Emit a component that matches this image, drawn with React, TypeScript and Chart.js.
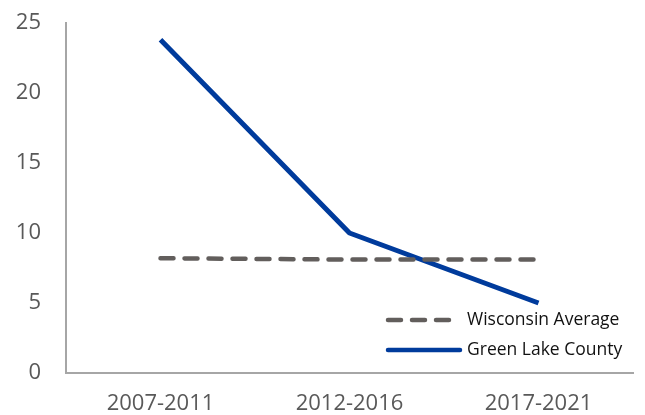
import React, { useEffect, useRef } from "react";
import { Chart, registerables } from "chart.js";

Chart.register(...registerables);

const categories = ["2007-2011", "2012-2016", "2017-2021"];
const wisconsinAverage = [8.2, 8.1, 8.1];
const greenLakeCounty = [23.8, 10.0, 5.0];
const seriesNames = ["Wisconsin Average", "Green Lake County"];

const GRAY = "#625e5c";
const BLUE = "#003b9c";
const FONT = "'Open Sans', 'Noto Sans', sans-serif";

const legendPlugin = {
  id: "insideLegend",
  afterDraw(chart: any) {
    const ctx = chart.ctx;
    const area = chart.chartArea;
    ctx.save();
    const x0 = area.right - 245;
    const rows = [
      { y: area.bottom - 53, color: GRAY, dash: [13, 11], len: 64, width: 4.5 },
      { y: area.bottom - 23, color: BLUE, dash: [], len: 72, width: 4.5 },
    ];
    rows.forEach((r, i) => {
      ctx.beginPath();
      ctx.setLineDash(r.dash);
      ctx.lineCap = "round";
      ctx.strokeStyle = r.color;
      ctx.lineWidth = r.width;
      ctx.moveTo(x0, r.y);
      ctx.lineTo(x0 + r.len, r.y);
      ctx.stroke();
      ctx.setLineDash([]);
      ctx.fillStyle = "#111111";
      ctx.font = "17.5px " + FONT;
      ctx.textBaseline = "middle";
      ctx.textAlign = "left";
      ctx.fillText(seriesNames[i], x0 + 79, r.y);
    });
    ctx.restore();
  },
};

export default function App() {
  const ref = useRef<HTMLCanvasElement>(null);
  useEffect(() => {
    document.body.style.margin = "0";
    const chart = new Chart(ref.current!, {
      type: "line",
      data: {
        labels: categories,
        datasets: [
          {
            label: seriesNames[0],
            data: wisconsinAverage,
            borderColor: GRAY,
            backgroundColor: GRAY,
            borderWidth: 4.5,
            borderDash: [13, 11],
            borderCapStyle: "round",
            pointRadius: 0,
            tension: 0,
          },
          {
            label: seriesNames[1],
            data: greenLakeCounty,
            borderColor: BLUE,
            backgroundColor: BLUE,
            borderWidth: 5,
            pointRadius: 0,
            tension: 0,
            borderJoinStyle: "round",
          },
        ],
      },
      options: {
        animation: false,
        responsive: false,
        maintainAspectRatio: false,
        layout: { padding: { top: 23, right: 12, left: 0, bottom: 0 } },
        plugins: { legend: { display: false }, tooltip: { enabled: false } },
        scales: {
          x: {
            offset: true,
            grid: { display: false, drawTicks: false },
            border: { display: true, color: "#a6a6a6", width: 2 },
            ticks: { color: "#595959", font: { family: FONT, size: 22 }, padding: 18 },
            afterFit: (s: any) => {
              s.height = 42;
              s.paddingLeft = 0;
              s.paddingRight = 0;
            },
          },
          y: {
            min: 0,
            max: 25,
            grid: { display: false, drawTicks: false },
            border: { display: true, color: "#a6a6a6", width: 2 },
            ticks: { stepSize: 5, color: "#595959", font: { family: FONT, size: 22 }, padding: 25 },
            afterFit: (s: any) => {
              s.width = 66;
              s.paddingTop = 0;
              s.paddingBottom = 0;
            },
          },
        },
      },
      plugins: [legendPlugin],
    } as any);
    return () => chart.destroy();
  }, []);
  return (
    <div style={{ width: 645, height: 415 }}>
      <canvas ref={ref} width={645} height={415} style={{ display: "block" }} />
    </div>
  );
}
